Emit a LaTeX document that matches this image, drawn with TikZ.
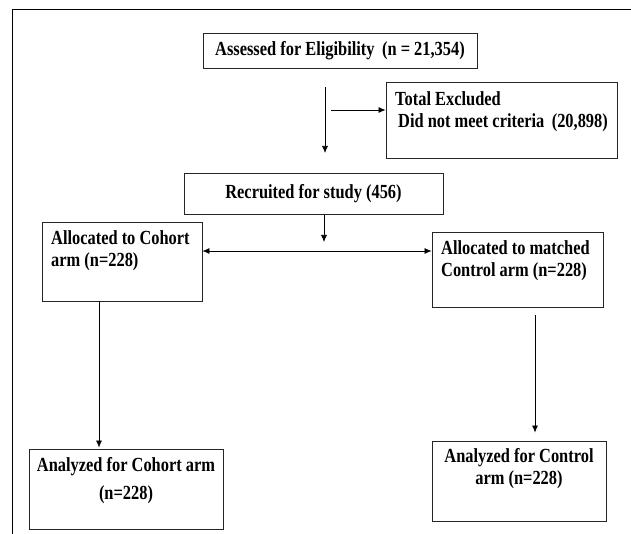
\documentclass[tikz,border=0pt]{standalone}
\usepackage{fontspec}
\setmainfont{Liberation Serif}[FakeStretch=0.82]
\usetikzlibrary{arrows.meta}

\begin{document}
\begin{tikzpicture}[x=1pt,y=-1pt,
    box/.style={draw=black!85, line width=0.9pt, inner sep=0pt},
    lbl/.style={font=\fontsize{20}{22}\selectfont\bfseries, inner sep=0pt},
    arr/.style={-{Latex[length=7pt,width=6pt]}, line width=0.7pt}]
        \useasboundingbox (0,0) rectangle (631,534);
        \draw[line width=0.9pt] (12,534) -- (12,9) -- (631,9);

        % boxes
        \node[box, lbl, minimum width=274pt, minimum height=35pt] at (340,50.5) (assess) {Assessed for Eligibility\, (n = 21,354)};
        \node[box, minimum width=231pt, minimum height=76pt] at (501.5,120) (excl) { };
        \node[lbl, anchor=west, align=left] at (395,111.5) (excltxt) {Total Excluded\\\hspace{3pt}Did not meet criteria\, (20,898)};
        \node[box, lbl, minimum width=259pt, minimum height=41pt] at (313.5,193.5) (recruit) {Recruited for study (456)};
        \node[box, minimum width=160pt, minimum height=79pt] at (122,261.5) (cohort) { };
        \node[lbl, anchor=west, align=left] at (51,251) (cohorttxt) {Allocated to Cohort\\arm (n=228)};
        \node[box, minimum width=171pt, minimum height=75pt] at (517.5,269.5) (control) { };
        \node[lbl, anchor=west, align=left] at (441,261) (controltxt) {Allocated to matched\\Control arm (n=228)};
        \node[box, minimum width=194pt, minimum height=80pt] at (126,489) (ancohort) { };
        \node[lbl, align=center] at (126,481) (ancohorttxt) {Analyzed for Cohort arm\\[6pt](n=228)};
        \node[box, minimum width=174pt, minimum height=80pt] at (519,481) (ancontrol) { };
        \node[lbl, align=center] at (519,469) (ancontroltxt) {Analyzed for Control\\arm (n=228)};

        % connectors
        \coordinate (a1) at (325,87);
        \coordinate (a2) at (325,153);
        \coordinate (a3) at (331,110);
        \coordinate (r1) at (324,215);
        \coordinate (r2) at (324,242);
        \coordinate (c1) at (535,315);
        \draw[arr] (a1) -- (a2);
        \draw[arr] (a3) -- (excl.west |- a3);
        \draw[arr] (r1) -- (r2);
        \draw[arr, {Latex[length=7pt,width=6pt]}-{Latex[length=7pt,width=6pt]}] (cohort.east |- 0,251) -- (control.west |- 0,251);
        \draw[arr] (99,301) -- ([yshift=1pt]ancohort.north -| 99,0);
        \draw[arr] (c1) -- ([yshift=8pt]ancontrol.north -| c1);
    \end{tikzpicture}
\end{document}
